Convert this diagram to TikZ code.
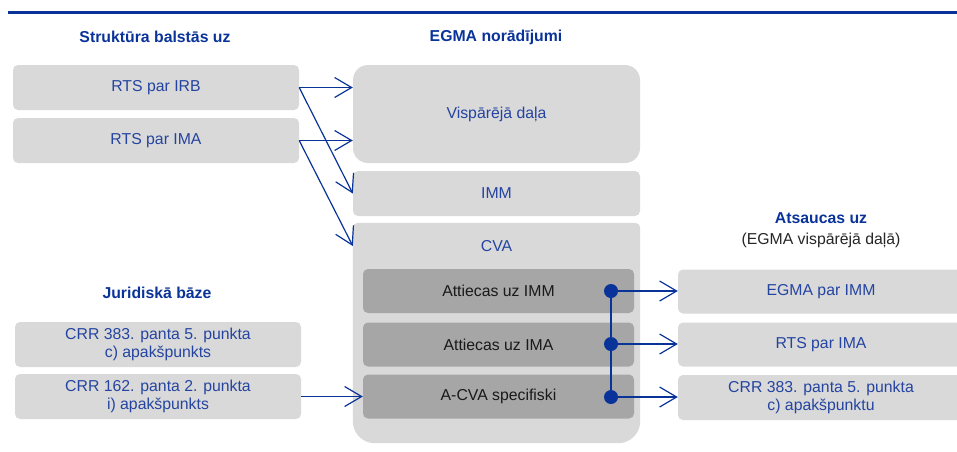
\documentclass[tikz,border=0pt]{standalone}
\usepackage{fontspec}
\setmainfont{Liberation Sans}
\usepackage{xcolor}
\usetikzlibrary{arrows.meta}
\definecolor{egmablue}{HTML}{0A3399}
\definecolor{txtblue}{HTML}{2444A0}
\definecolor{lgray}{HTML}{D9D9D9}
\definecolor{dgray}{HTML}{A6A6A6}

\begin{document}
\begin{tikzpicture}[x = 1pt, y = -1pt,
      box/.style = {rectangle, fill = lgray, rounded corners = 5pt, inner sep = 0pt, text = txtblue, align = center, font = \fontsize{15.8}{18}\selectfont},
      darkbox/.style = {box, fill = dgray, text = black!90},
      head/.style = {text = egmablue, font = \fontsize{15.8}{18}\selectfont\bfseries},
      arr/.style = {draw = egmablue, line width = 1.2pt, -{Straight Barb[length = 17pt, width = 20pt, line width = 1.2pt]}},
      dot/.style = {circle, fill = egmablue, inner sep = 0pt, minimum size = 14pt}]
      \clip (0, 0) rectangle (957, 451);
      \draw [egmablue, line width = 2.2pt] (8, 12.5) -- (957, 12.5);
      \node [head] (hstr) at (155, 37) {Struktūra balstās uz};
      \node [head] (hegma) at (496, 37) {EGMA norādījumi};
      \node [head] (hjur) at (157, 293) {Juridiskā bāze};
      \node [head] (hats) at (821, 218) {Atsaucas uz};
      \node [text = black!85, font = \fontsize{15.8}{18}\selectfont] (hatsb) at (821, 240) {(EGMA vispārējā daļā)};
      \node [box, minimum width = 286, minimum height = 45] (irb) at (156, 87.5) {RTS par IRB};
      \node [box, minimum width = 286, minimum height = 45] (ima) at (156, 140.5) {RTS par IMA};
      \node [box, minimum width = 286, minimum height = 45] (crra) at (158, 344.5) {CRR 383. panta 5. punkta\\c) apakšpunkts};
      \node [box, minimum width = 286, minimum height = 45] (crrb) at (158, 396.5) {CRR 162. panta 2. punkta\\i) apakšpunkts};
      \node [box, rounded corners = 15pt, minimum width = 287, minimum height = 98] (gen) at (496.5, 114) {Vispārējā daļa};
      \node [box, minimum width = 287, minimum height = 45] (imm) at (496.5, 193.5) {IMM};
      \node [minimum width = 287, minimum height = 220, inner sep = 0pt] (cva) at (496.5, 333) {};
      \fill [lgray] (cva.east) [rounded corners = 5pt] |- (cva.north west) -- (cva.west) [rounded corners = 22pt] |- (cva.south east) -- cycle;
      \node [text = txtblue, font = \fontsize{15.8}{18}\selectfont] (cvalbl) at (496.5, 246) {CVA};
      \node [darkbox, minimum width = 271, minimum height = 44] (uzimm) at (498.5, 291) {Attiecas uz IMM};
      \node [darkbox, minimum width = 271, minimum height = 44] (uzima) at (498.5, 344.5) {Attiecas uz IMA};
      \node [darkbox, minimum width = 271, minimum height = 44] (acva) at (498.5, 396.5) {A-CVA specifiski};
      \node [box, minimum width = 286, minimum height = 44] (egmaimm) at (821, 291.5) {EGMA par IMM};
      \node [box, minimum width = 286, minimum height = 44] (rtsima) at (821, 344.5) {RTS par IMA};
      \node [box, minimum width = 286, minimum height = 45] (crrc) at (821, 397.5) {CRR 383. panta 5. punkta\\c) apakšpunktu};
      \draw [arr] (irb.east) -- (gen.west |- irb.east);
      \draw [arr] (irb.east) -- (imm.west);
      \draw [arr] (ima.east) -- (gen.west |- ima.east);
      \draw [arr] (ima.east) -- (cva.west |- cvalbl);
      \draw [arr] (crrb.east) -- (acva.west);
      \node [dot] (da) at (611, 291) {};
      \node [dot] (db) at (611, 344) {};
      \node [dot] (dc) at (611, 397) {};
      \draw [egmablue, line width = 1.2pt] (da) -- (dc);
      \draw [arr] (da) -- (egmaimm.west |- da);
      \draw [arr] (db) -- (rtsima.west |- db);
      \draw [arr] (dc) -- (crrc.west |- dc);
    \end{tikzpicture}
\end{document}
